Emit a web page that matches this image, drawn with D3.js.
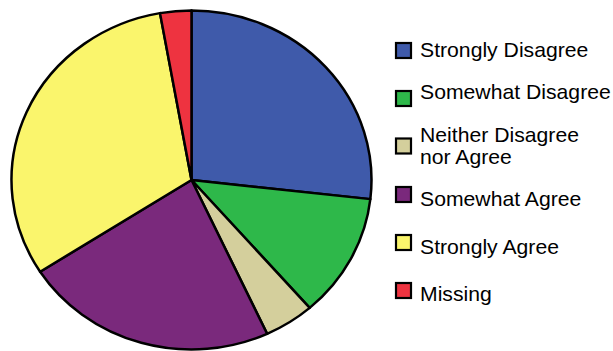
<!DOCTYPE html>
<html>
<head>
<meta charset="utf-8">
<script src="https://cdn.jsdelivr.net/npm/d3@7"></script>
<style>
  html, body { margin: 0; padding: 0; background: #fff; }
  svg { display: block; }
</style>
</head>
<body>
<svg id="chart" width="613" height="351"></svg>
<script>
// Data
const categories = ["Strongly Disagree", "Somewhat Disagree", "Neither Disagree nor Agree", "Somewhat Agree", "Strongly Agree", "Missing"];
const legendLabels = [["Strongly Disagree"], ["Somewhat Disagree"], ["Neither Disagree", "nor Agree"], ["Somewhat Agree"], ["Strongly Agree"], ["Missing"]];
const values = [26.8, 11.8, 4.5, 22.8, 31.3, 2.8];
const colors = ["#3F5AAA", "#2EB84A", "#D4CF9C", "#7A297C", "#FAF56C", "#EE3340"];

// Layout
const cx = 191.5, cy = 180, rx = 180, ry = 169.5;
const legendBoxY = [42, 90, 137.5, 186, 234, 282];
const legendTextY = [56.5, 98.5, 141.7, 205.5, 253.5, 301];
const lineGap = 22;

const svg = d3.select("#chart");

const pie = d3.pie().sort(null).value(d => d);
const arc = d3.arc().innerRadius(0).outerRadius(rx);
const color = d3.scaleOrdinal().domain(categories).range(colors);

const g = svg.append("g")
  .attr("transform", `translate(${cx},${cy}) scale(1,${ry / rx})`);

g.selectAll("path")
  .data(pie(values))
  .join("path")
  .attr("d", arc)
  .attr("fill", (d, i) => color(categories[i]))
  .attr("stroke", "#000")
  .attr("stroke-width", 2.5)
  .attr("stroke-linejoin", "round")
  .attr("vector-effect", "non-scaling-stroke");

const leg = svg.append("g");
const items = leg.selectAll("g.item")
  .data(categories)
  .join("g")
  .attr("class", "item");

items.append("rect")
  .attr("x", 396)
  .attr("y", (d, i) => legendBoxY[i] + 1)
  .attr("width", 15)
  .attr("height", 15)
  .attr("fill", d => color(d))
  .attr("stroke", "#000")
  .attr("stroke-width", 2.2);

items.append("text")
  .attr("transform", (d, i) => `translate(420,${legendTextY[i]}) scale(1.06,1)`)
  .attr("font-family", "'Liberation Sans', Arial, sans-serif")
  .attr("font-size", 20)
  .attr("fill", "#000")
  .selectAll("tspan")
  .data((d, i) => legendLabels[i])
  .join("tspan")
  .attr("x", 0)
  .attr("dy", (d, j) => j === 0 ? 0 : lineGap)
  .text(d => d);
</script>
</body>
</html>
